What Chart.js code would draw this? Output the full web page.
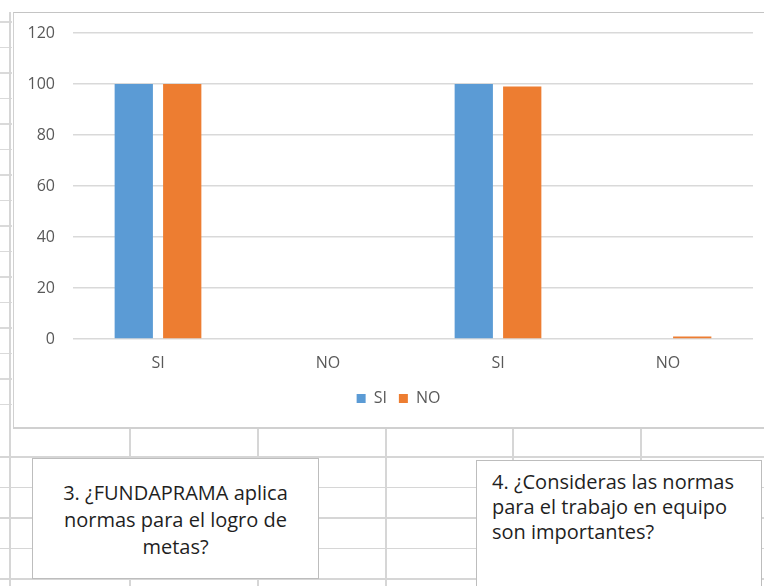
<!DOCTYPE html>
<html lang="es">
<head>
<meta charset="utf-8">
<title>Normas FUNDAPRAMA</title>
<script src="https://cdn.jsdelivr.net/npm/chart.js@4.4.1/dist/chart.umd.min.js"></script>
<style>
  html, body {
    margin: 0;
    padding: 0;
    width: 764px;
    height: 586px;
    overflow: hidden;
    background: #ffffff;
    font-family: "Open Sans", "Noto Sans", sans-serif;
  }
  /* spreadsheet cells behind the chart */
  .sheet {
    position: absolute;
    left: 0;
    top: 0;
    width: 764px;
    height: 586px;
  }
  .rows {
    position: absolute;
    left: 0;
    top: 427px;
    width: 764px;
    height: 159px;
    background: repeating-linear-gradient(to bottom, transparent 0, transparent 29px, #d6d6d6 29px, #d6d6d6 30.5px, transparent 30.5px, transparent 29.3px);
  }
  .cols span {
    position: absolute;
    top: 427px;
    width: 1.5px;
    height: 159px;
    background: #d6d6d6;
  }
  .leftstrip {
    position: absolute;
    left: 0;
    top: 12px;
    width: 12px;
    height: 416px;
    background: repeating-linear-gradient(to bottom, transparent 0, transparent 9.5px, #dadada 9.5px, #dadada 11px, transparent 11px, transparent 25.5px);
  }
  .leftline {
    position: absolute;
    left: 9px;
    top: 12px;
    width: 1.5px;
    height: 574px;
    background: #d6d6d6;
  }
  .chart-frame {
    position: absolute;
    left: 13px;
    top: 12px;
    width: 760px;
    height: 414px;
    background: #ffffff;
    border-top: 1.5px solid #c4c4c4;
    border-left: 1.5px solid #d0d0d0;
    border-bottom: 2px solid #d0d0d0;
  }
  .chart-box {
    position: relative;
    width: 750px;
    height: 414px;
  }
  .note {
    position: absolute;
    box-sizing: border-box;
    background: #ffffff;
    border: 1.5px solid #bdbdbd;
    color: #1f1f1f;
    font-size: 20px;
    white-space: nowrap;
  }
  #note3 {
    left: 32px;
    top: 458px;
    width: 287px;
    height: 121px;
    padding-top: 20px;
    text-align: center;
    line-height: 27px;
  }
  #note4 {
    left: 476px;
    top: 460px;
    width: 286px;
    height: 140px;
    padding: 8px 0 0 15px;
    text-align: left;
    line-height: 25px;
  }
</style>
</head>
<body>
<div class="sheet">
  <div class="rows"></div>
  <div class="cols">
    <span style="left:129px"></span>
    <span style="left:257px"></span>
    <span style="left:385px"></span>
    <span style="left:512px"></span>
    <span style="left:640px"></span>
  </div>
  <div class="leftstrip"></div>
  <div class="leftline"></div>
</div>

<div class="chart-frame">
  <div class="chart-box"><canvas id="chart-normas"></canvas></div>
</div>

<div class="note" id="note3">3. ¿FUNDAPRAMA aplica<br>normas para el logro de<br>metas?</div>
<div class="note" id="note4">4. ¿Consideras las normas<br>para el trabajo en equipo<br>son importantes?</div>

<script>
// Answers to questions 3 and 4, grouped by SI / NO
const categories = ['SI', 'NO', 'SI', 'NO'];
const seriesNames = ['SI', 'NO'];
const siValues = [100, 0, 100, 0];
const noValues = [100, 0, 99, 1];
const seriesColors = ['#5B9BD5', '#ED7D31'];

const yMin = 0;
const yMax = 120;
const yStep = 20;

const textGray = '#595959';
const gridGray = '#d9d9d9';
const tickFont = { family: '"Open Sans", "Noto Sans", sans-serif', size: 16 };

// Keep the legend a little left of the plot centre, as in the workbook
const legendNudge = {
    id: 'legendNudge',
    afterLayout(chart) {
        if (!chart.legend) return;
        chart.legend.left += 15;
        chart.legend.right += 15;
    }
};

function renderChart() {
    const ctx = document.getElementById('chart-normas').getContext('2d');
    new Chart(ctx, {
        type: 'bar',
        data: {
            labels: categories,
            datasets: [
                {
                    label: seriesNames[0],
                    data: siValues,
                    backgroundColor: seriesColors[0],
                    borderWidth: 0
                },
                {
                    label: seriesNames[1],
                    data: noValues,
                    backgroundColor: seriesColors[1],
                    borderWidth: 0
                }
            ]
        },
        options: {
            responsive: true,
            maintainAspectRatio: false,
            animation: false,
            categoryPercentage: 0.57,
            barPercentage: 0.79,
            layout: {
                padding: { left: 0, right: 11, top: 20, bottom: 10.5 }
            },
            scales: {
                x: {
                    grid: { display: false },
                    border: { display: false },
                    ticks: {
                        color: textGray,
                        font: tickFont,
                        padding: 7
                    },
                    afterFit(scale) {
                        scale.height = 39.5;
                    }
                },
                y: {
                    min: yMin,
                    max: yMax,
                    grid: {
                        color: gridGray,
                        lineWidth: 1.5,
                        // invisible tick marks give the label gap without
                        // adding vertical padding to the axis
                        drawTicks: true,
                        tickLength: 15,
                        tickColor: 'rgba(0,0,0,0)'
                    },
                    border: { display: false },
                    ticks: {
                        stepSize: yStep,
                        color: textGray,
                        font: tickFont,
                        padding: 3
                    },
                    afterFit(scale) {
                        scale.width = 59;
                    }
                }
            },
            plugins: {
                legend: {
                    position: 'bottom',
                    labels: {
                        boxWidth: 9,
                        boxHeight: 9,
                        padding: 12,
                        color: textGray,
                        font: tickFont
                    }
                },
                tooltip: { enabled: false },
                title: { display: false }
            }
        },
        plugins: [legendNudge]
    });
}

document.addEventListener('DOMContentLoaded', renderChart);
</script>
</body>
</html>
